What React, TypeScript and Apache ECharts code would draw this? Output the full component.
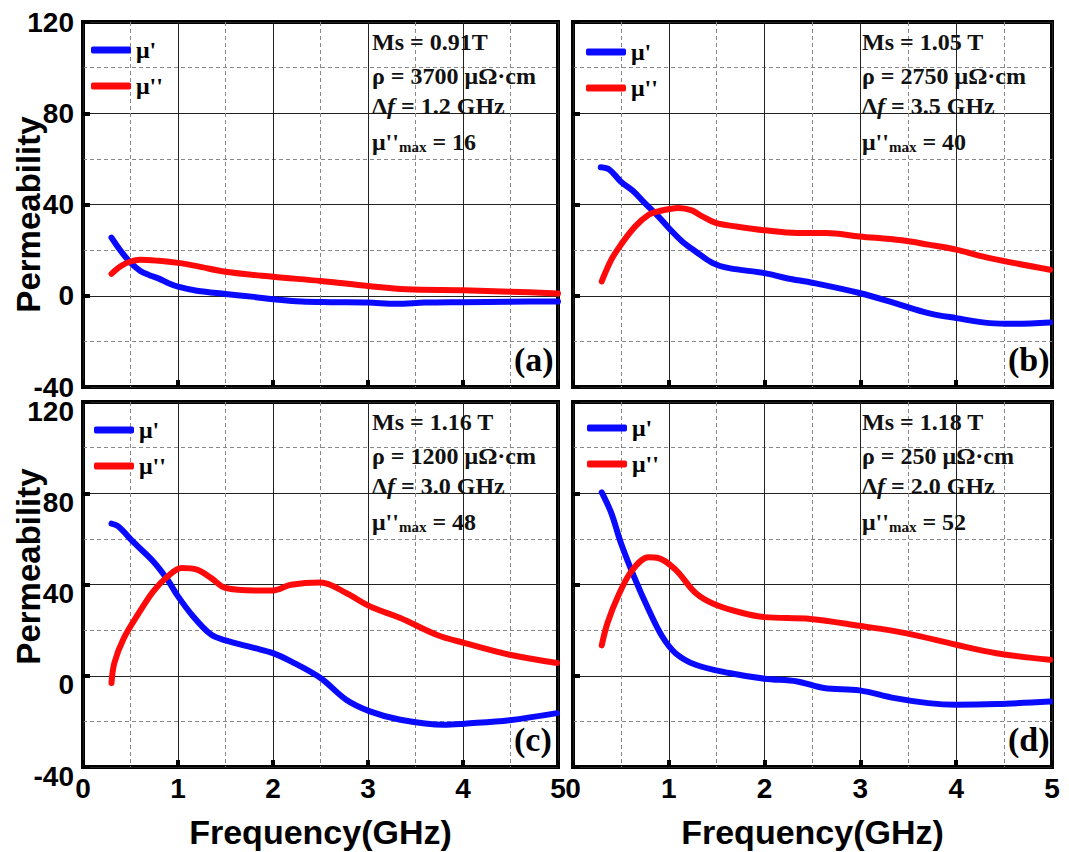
import React, { useEffect, useRef } from 'react';
import * as echarts from 'echarts';

// ---------- data ----------
const seriesNames = ["μ'", "μ''"];
const panelTags = ['(a)', '(b)', '(c)', '(d)'];

const muRealA = [[0.3,25.5],[0.4,19.5],[0.5,14.5],[0.6,11],[0.7,9],[0.8,7.5],[0.9,5.5],[1.0,4],[1.2,2.2],[1.5,0.8],[1.8,-0.5],[2.0,-1.5],[2.3,-2.5],[2.6,-2.8],[3.0,-3],[3.3,-3.5],[3.6,-3],[4.0,-2.8],[4.5,-2.6],[5.0,-2.5]];
const muImagA = [[0.3,9.6],[0.4,13],[0.5,15],[0.6,15.8],[0.8,15.3],[1.0,14.4],[1.2,13],[1.5,10.5],[2.0,8.3],[2.5,6.5],[3.0,4.3],[3.4,2.8],[4.0,2.4],[4.5,1.8],[5.0,1]];

const muRealB = [[0.29,56.3],[0.38,55.3],[0.5,50],[0.63,45.8],[0.75,40.6],[0.89,34.8],[1.0,29.7],[1.14,23.8],[1.28,19.4],[1.46,14.3],[1.63,12.1],[2.0,9.9],[2.23,7.7],[2.51,5.6],[2.99,1.2],[3.36,-3.2],[3.71,-7.6],[4.0,-9.8],[4.35,-12],[4.6,-12.3],[4.98,-11.7]];
const muImagB = [[0.3,6.3],[0.4,15.8],[0.5,22.4],[0.65,30.4],[0.79,35.5],[0.89,37],[1.1,38.5],[1.24,37.4],[1.35,34.8],[1.49,31.9],[1.7,30.4],[2.0,28.7],[2.34,27.5],[2.64,27.5],[2.99,26],[3.43,24.3],[3.71,22.4],[4.0,20.2],[4.35,16.5],[4.98,11.4]];

const muRealC = [[0.3,66.7],[0.37,65.5],[0.54,58.2],[0.74,50.1],[0.89,42.1],[1.0,34.8],[1.16,26],[1.35,18],[1.5,15.5],[1.81,12.1],[2.0,9.9],[2.19,6.3],[2.5,-1],[2.77,-10.5],[3.02,-15.6],[3.34,-19.3],[3.8,-21.5],[4.02,-21],[4.49,-19.5],[4.99,-16.4]];
const muImagC = [[0.3,-3.2],[0.33,5.6],[0.43,16.5],[0.58,27],[0.74,37],[0.89,43.5],[1.04,47.2],[1.2,46.5],[1.35,42.8],[1.5,38.5],[1.81,37.4],[2.0,37.4],[2.19,39.9],[2.5,40.9],[2.77,36.3],[3.02,30.4],[3.34,25.3],[3.72,18],[4.02,14.3],[4.49,9.2],[4.99,5.6]];

const muRealD = [[0.3,80.4],[0.4,71.3],[0.5,58.2],[0.65,42.1],[0.79,28.9],[0.93,17.3],[1.07,9.9],[1.28,4.8],[1.63,1.2],[2.0,-1.3],[2.34,-2.5],[2.62,-5.4],[2.99,-6.4],[3.36,-9.8],[3.71,-12],[4.0,-12.7],[4.42,-12.4],[4.98,-11.3]];
const muImagD = [[0.3,13.3],[0.36,23.1],[0.47,34.8],[0.61,45.8],[0.79,51.9],[0.89,51.6],[1.07,46.5],[1.28,36.3],[1.49,31.1],[1.77,27.5],[2.0,25.7],[2.48,24.9],[2.99,21.9],[3.47,18.7],[4.0,13.6],[4.42,9.9],[4.98,7.0]];

const msValues = ['0.91T', '1.05 T', '1.16 T', '1.18 T'];
const rhoValues = ['3700', '2750', '1200', '250'];
const dfValues = ['1.2', '3.5', '3.0', '2.0'];
const muMaxValues = ['16', '40', '48', '52'];

const xMin = 0, xMax = 5, xStep = 1;
const yMin = -40, yMax = 120, yStep = 40;

// ---------- layout ----------
const panels = [
  { left: 83, top: 22, width: 475, height: 365, showX: false, showY: true, nameShift: 10 },
  { left: 573, top: 22, width: 479, height: 365, showX: false, showY: false, nameShift: 0 },
  { left: 83, top: 402, width: 475, height: 365, showX: true, showY: true, nameShift: -18 },
  { left: 573, top: 402, width: 479, height: 365, showX: true, showY: false, nameShift: 0 },
];
const dataSets = [
  [muRealA, muImagA],
  [muRealB, muImagB],
  [muRealC, muImagC],
  [muRealD, muImagD],
];

const SERIF = 'Liberation Serif';
const SANS = 'Liberation Sans';
const BLUE = '#0a0aff';
const RED = '#ff0a0a';

export default function App() {
  const ref = useRef<HTMLDivElement>(null);
  useEffect(() => {
    if (!ref.current) return;
    const chart = echarts.init(ref.current, undefined, { renderer: 'svg' });

    const grid = panels.map((p) => ({
      left: p.left, top: p.top, width: p.width, height: p.height,
      show: true, borderColor: '#000', borderWidth: 4, backgroundColor: 'transparent',
      containLabel: false,
    }));

    const xAxis = panels.map((p, i) => ({
      type: 'value', gridIndex: i, min: xMin, max: xMax, interval: xStep,
      name: p.showX ? 'Frequency(GHz)' : '',
      nameLocation: 'middle', nameGap: 48,
      nameTextStyle: { fontFamily: SANS, fontWeight: 'bold', fontSize: 34, color: '#000' },
      axisLine: { show: false, onZero: false },
      axisTick: { show: true, inside: true, length: 7, lineStyle: { color: '#000', width: 4 } },
      axisLabel: { show: p.showX, fontFamily: SANS, fontWeight: 'bold', fontSize: 28, color: '#000', margin: 7 },
      splitLine: { show: true, lineStyle: { color: '#222', width: 1 } },
      minorTick: { show: false, splitNumber: 2 },
      minorSplitLine: { show: true, lineStyle: { color: '#888', width: 1, type: [4, 3] } },
    }));

    const yAxis = panels.map((p, i) => ({
      type: 'value', gridIndex: i, min: yMin, max: yMax, interval: yStep,
      axisLine: { show: false, onZero: false },
      axisTick: { show: true, inside: true, length: 7, lineStyle: { color: '#000', width: 4 } },
      axisLabel: {
        show: p.showY, fontFamily: SANS, fontWeight: 'bold', fontSize: 28, color: '#000', margin: 9,
        verticalAlign: i === 2 ? 'top' : 'middle',
        lineHeight: i === 2 ? 18 : 24,
      },
      splitLine: { show: true, lineStyle: { color: '#222', width: 1 } },
      minorTick: { show: false, splitNumber: 2 },
      minorSplitLine: { show: true, lineStyle: { color: '#888', width: 1, type: [4, 3] } },
    }));

    const series: any[] = [];
    dataSets.forEach((ds, i) => {
      ds.forEach((d, k) => {
        series.push({
          type: 'line', name: seriesNames[k], xAxisIndex: i, yAxisIndex: i,
          data: d, showSymbol: false, symbol: 'none', smooth: 0.35,
          lineStyle: { color: k === 0 ? BLUE : RED, width: 6, cap: 'round', join: 'round' },
          itemStyle: { color: k === 0 ? BLUE : RED },
          z: 3 + k,
        });
      });
    });

    const legendOffsets = [
      { dx: 8, dy: 16 },
      { dx: 13, dy: 18 },
      { dx: 11, dy: 16 },
      { dx: 14, dy: 14 },
    ];
    const legend = panels.map((p, i) => ({
      orient: 'vertical',
      padding: 0,
      left: p.left + legendOffsets[i].dx,
      top: p.top + legendOffsets[i].dy,
      data: seriesNames.map((n) => ({ name: n })),
      icon: 'roundRect', itemWidth: 40, itemHeight: 7, itemGap: 12,
      textStyle: { fontFamily: SERIF, fontWeight: 'bold', fontSize: 24, color: '#000' },
      selectedMode: false,
    }));

    const graphic: any[] = [];
    panels.forEach((p, i) => {
      const x = p.left + 289;
      const lines = [
        { y: 4, text: `{a|Ms = ${msValues[i]}}` },
        { y: 38, text: `{a|ρ = ${rhoValues[i]} μΩ·cm}` },
        { y: 68, text: `{a|Δ}{it|f}{a| = ${dfValues[i]} GHz}` },
        { y: 104, text: `{a|μ''}{s|max}{a| = ${muMaxValues[i]}}` },
      ];
      lines.forEach((ln) => {
        graphic.push({
          type: 'text', x, y: p.top + ln.y, z: 10,
          style: {
            text: ln.text, fill: '#111',
            rich: {
              a: { fontFamily: SERIF, fontWeight: 'bold', fontSize: 24, fill: '#111', lineHeight: 28, verticalAlign: 'bottom' },
              it: { fontFamily: SERIF, fontWeight: 'bold', fontStyle: 'italic', fontSize: 24, fill: '#111', lineHeight: 28, verticalAlign: 'bottom' },
              s: { fontFamily: SERIF, fontWeight: 'bold', fontSize: 15, fill: '#111', lineHeight: 26, verticalAlign: 'bottom' },
            },
          },
        });
      });
      graphic.push({
        type: 'text', x: p.left + p.width - 44, y: p.top + p.height - 45, z: 10,
        style: { text: panelTags[i], fill: '#000', fontFamily: SERIF, fontWeight: 'bold', fontSize: 34 },
      });
      if (p.showY) {
        graphic.push({
          type: 'text', x: 28, y: p.top + p.height / 2 + p.nameShift, rotation: Math.PI / 2, z: 10,
          style: {
            text: 'Permeability', fill: '#000', fontFamily: SANS, fontWeight: 'bold', fontSize: 33,
            align: 'center', verticalAlign: 'middle', textAlign: 'center', textVerticalAlign: 'middle',
          },
        });
      }
    });

    chart.setOption({
      animation: false,
      backgroundColor: '#fff',
      grid, xAxis, yAxis, series, legend, graphic,
    });
    return () => chart.dispose();
  }, []);

  return (
    <div
      ref={ref}
      style={{ position: 'fixed', left: 0, top: 0, width: 1069, height: 852, background: '#fff' }}
    />
  );
}
